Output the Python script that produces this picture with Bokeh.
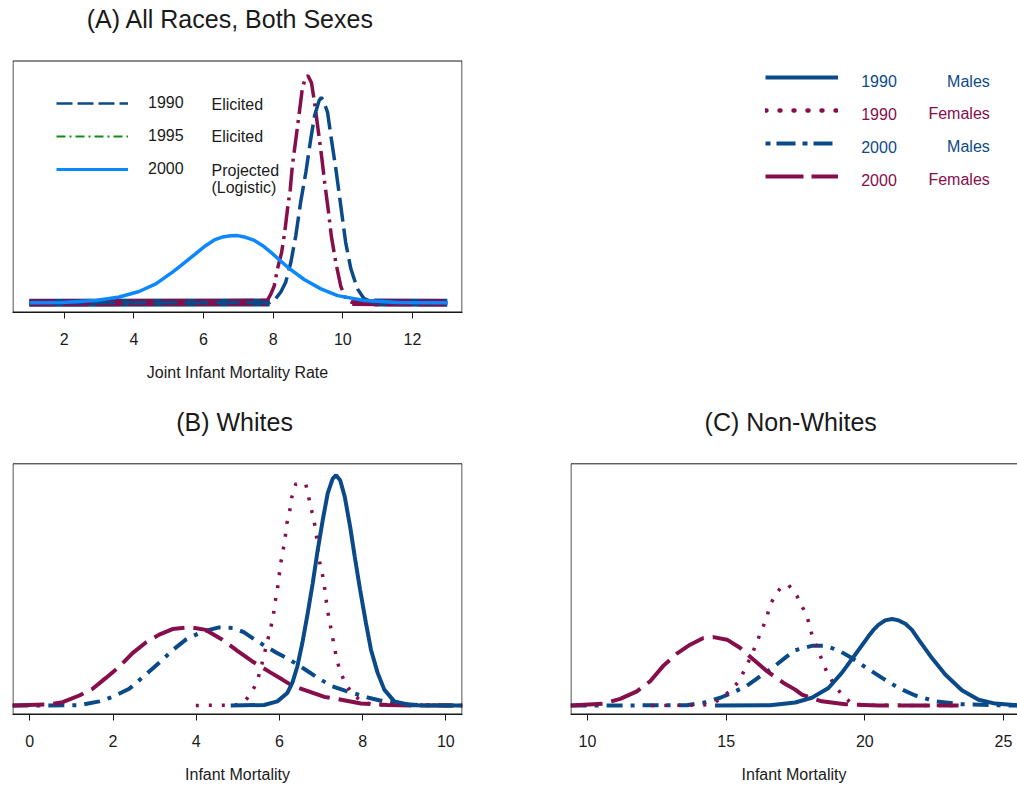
import math
from bokeh.plotting import figure
from bokeh.layouts import column, row
from bokeh.models import Range1d, FixedTicker, Legend, LegendItem, Label, BoxAnnotation
from bokeh.embed import file_html
from bokeh.resources import INLINE

FONT = "Liberation Sans"
NAVY = "#0b4a89"
MAROON = "#860e4b"
SKY = "#0b87ff"
GREEN = "#148c14"
INK = "#1a1a1a"
NAN = float("nan")

# ---------------- Panel A: All races, both sexes (joint IMR densities) ----------------
a_title = "(A) All Races, Both Sexes"
a_ticks = [2, 4, 6, 8, 10, 12]
a_x_1990 = [1.0, 7.9, 8.03, 8.22, 8.36, 8.51, 8.65, 8.79, 8.94, 9.08, 9.19, 9.32, 9.38, 9.44,
            9.56, 9.67, 9.80, 9.94, 10.08, 10.23, 10.42, 10.61, 10.9, 13.0]
a_y_1990 = [0.0, 0.001, 0.010, 0.045, 0.086, 0.170, 0.280, 0.420, 0.545, 0.683, 0.780, 0.843, 0.855, 0.843,
            0.795, 0.683, 0.558, 0.405, 0.253, 0.142, 0.058, 0.017, 0.001, 0.0]
a_x_1995 = [1.0, 7.8, 7.93, 8.03, 8.12, 8.24, 8.33, 8.41, 8.49, 8.55, 8.65, 8.75, 8.84, 8.94, 9.0,
            9.1, 9.19, 9.29, 9.39, 9.48, 9.58, 9.67, 9.80, 9.94, 10.08, 10.27, 13.0]
a_y_1995 = [0.0, 0.002, 0.035, 0.070, 0.139, 0.208, 0.292, 0.389, 0.472, 0.570, 0.680, 0.792, 0.896, 0.942, 0.946,
            0.917, 0.833, 0.722, 0.611, 0.500, 0.389, 0.278, 0.167, 0.070, 0.017, 0.001, 0.0]
a_x_2000 = [1.0, 1.95, 2.91, 3.58, 4.15, 4.63, 5.11, 5.35, 5.59, 5.83, 6.07, 6.31, 6.54, 6.78, 6.98,
            7.21, 7.46, 7.69, 7.93, 8.41, 8.89, 9.37, 9.85, 10.61, 11.57, 13.0]
a_y_2000 = [0.0, 0.001, 0.010, 0.024, 0.047, 0.079, 0.128, 0.155, 0.183, 0.211, 0.239, 0.262, 0.274, 0.279, 0.280,
            0.273, 0.260, 0.239, 0.211, 0.149, 0.097, 0.058, 0.030, 0.010, 0.001, 0.0]
a_legend_years = ["1990", "1995", "2000"]
a_legend_desc = ["Elicited", "Elicited", "Projected", "(Logistic)"]

# ---------------- Panel B: Whites ----------------
b_title = "(B) Whites"
b_ticks = [0, 2, 4, 6, 8, 10]
b_x_m90 = [4.83, 5.63, 5.95, 6.19, 6.31, 6.43, 6.55, 6.68, 6.80, 6.92, 7.04, 7.16, 7.28, 7.36, 7.46,
           7.57, 7.70, 7.81, 7.94, 8.08, 8.20, 8.36, 8.52, 8.76, 9.16, 10.4]
b_y_m90 = [0.0, 0.002, 0.015, 0.045, 0.081, 0.140, 0.224, 0.331, 0.438, 0.557, 0.664, 0.760, 0.813, 0.825, 0.807,
           0.748, 0.640, 0.533, 0.414, 0.295, 0.200, 0.117, 0.057, 0.015, 0.001, 0.0]
b_x_f90 = [3.99, 4.95, 5.15, 5.31, 5.46, 5.58, 5.70, 5.78, 5.85, 5.89, 5.95, 5.99, 6.03, 6.09, 6.14, 6.18,
           6.25, 6.30, 6.39, 6.51, 6.63, 6.70, 6.77, 6.84, 6.89, 6.92, 6.97, 7.04, 7.09, 7.13, 7.18,
           7.24, 7.30, 7.36, 7.44, 7.56, 7.76, 8.04, 8.4, 10.4]
b_y_f90 = [0.0, 0.002, 0.012, 0.042, 0.083, 0.150, 0.224, 0.271, 0.319, 0.367, 0.414, 0.462, 0.510, 0.557, 0.605, 0.653,
           0.700, 0.748, 0.793, 0.798, 0.795, 0.748, 0.702, 0.655, 0.607, 0.560, 0.512, 0.464, 0.417, 0.369, 0.321,
           0.274, 0.226, 0.179, 0.131, 0.087, 0.039, 0.010, 0.002, 0.0]
b_x_m00 = [-0.42, 1.19, 1.67, 1.99, 2.39, 2.79, 3.11, 3.43, 3.75, 4.15, 4.55, 4.91, 5.15, 5.47, 5.92,
           6.25, 6.60, 6.92, 7.27, 7.63, 8.14, 8.5, 9.0, 9.5, 10.4]
b_y_m00 = [0.0, 0.001, 0.015, 0.031, 0.060, 0.111, 0.153, 0.198, 0.236, 0.265, 0.280, 0.278, 0.262, 0.230, 0.190,
           0.164, 0.131, 0.099, 0.069, 0.051, 0.028, 0.015, 0.005, 0.001, 0.0]
b_x_f00 = [-0.42, 0.47, 0.79, 1.19, 1.51, 1.83, 2.15, 2.47, 2.79, 3.11, 3.43, 3.83, 4.23, 4.63, 4.99,
           5.35, 5.79, 6.07, 6.31, 6.70, 7.08, 7.36, 7.96, 8.6, 9.2, 10.4]
b_y_f00 = [0.0, 0.004, 0.012, 0.036, 0.060, 0.099, 0.139, 0.188, 0.226, 0.254, 0.274, 0.281, 0.271, 0.236, 0.196,
           0.158, 0.118, 0.093, 0.071, 0.051, 0.031, 0.024, 0.007, 0.002, 0.0, 0.0]

# ---------------- Panel C: Non-Whites ----------------
c_title = "(C) Non-Whites"
c_ticks = [10, 15, 20, 25]
c_x_m90 = [14.6, 16.59, 17.49, 18.09, 18.69, 19.17, 19.65, 20.13, 20.31, 20.49, 20.73, 20.98, 21.22, 21.46,
           21.70, 21.94, 22.42, 22.90, 23.50, 24.10, 24.70, 25.5]
c_y_m90 = [0.0, 0.001, 0.011, 0.028, 0.063, 0.117, 0.182, 0.248, 0.271, 0.289, 0.305, 0.310, 0.305, 0.293,
           0.271, 0.236, 0.170, 0.111, 0.055, 0.021, 0.007, 0.001]
c_x_f90 = [12.3, 14.2, 14.6, 14.85, 15.2, 15.5, 15.7, 15.93, 16.11, 16.29, 16.47, 16.6, 16.83, 17.05, 17.25,
           17.55, 17.79, 17.97, 18.09, 18.27, 18.45, 18.63, 18.87, 19.17, 19.53, 20.0, 23.3]
c_y_f90 = [0.0, 0.002, 0.011, 0.029, 0.057, 0.093, 0.136, 0.182, 0.229, 0.271, 0.319, 0.364, 0.406, 0.429, 0.432,
           0.393, 0.345, 0.301, 0.254, 0.210, 0.164, 0.120, 0.079, 0.039, 0.007, 0.001, 0.0]
c_x_m00 = [9.39, 13.58, 14.18, 14.79, 15.27, 15.75, 16.23, 16.71, 17.19, 17.49, 18.09, 18.57, 19.05,
           19.53, 20.01, 20.62, 21.22, 21.82, 22.54, 23.5, 24.70, 25.5]
c_y_m00 = [0.0, 0.001, 0.010, 0.028, 0.048, 0.071, 0.105, 0.138, 0.176, 0.198, 0.214, 0.214, 0.198,
           0.170, 0.138, 0.099, 0.063, 0.036, 0.015, 0.005, 0.001, 0.0]
c_x_f00 = [9.39, 10.58, 11.18, 11.78, 12.26, 12.74, 13.22, 13.70, 14.18, 14.54, 15.03, 15.51, 15.99,
           16.47, 17.07, 17.49, 17.73, 18.45, 19.29, 20.49, 23.38]
c_y_f00 = [0.0, 0.007, 0.024, 0.051, 0.087, 0.143, 0.186, 0.218, 0.242, 0.245, 0.236, 0.206, 0.164,
           0.123, 0.081, 0.057, 0.039, 0.015, 0.005, 0.0, 0.0]

# shared legend (top right)
leg_years = ["1990", "1990", "2000", "2000"]
leg_groups = ["Males", "Females", "Males", "Females"]

STY_M90 = dict(color=NAVY, line_width=4)
STY_F90 = dict(color=MAROON, line_width=3.5, line_dash="3 10")
STY_M00 = dict(color=NAVY, line_width=4, line_dash="16 8 4 8")
STY_F00 = dict(color=MAROON, line_width=4, line_dash="32 9")


def base_fig(width, height, xr, yr, borders):
    l, r, t, b = borders
    p = figure(width=width, height=height, x_range=Range1d(*xr), y_range=Range1d(*yr),
               output_backend="svg", toolbar_location=None,
               y_axis_location=None, min_border_left=l, min_border_right=r,
               min_border_top=t, min_border_bottom=b)
    p.grid.visible = False
    p.outline_line_color = None
    p.background_fill_color = "white"
    p.border_fill_color = "white"
    return p


def add_box(p, left, right, bottom, top):
    # visible plot box (the frame itself also holds the title area above it)
    p.add_layout(BoxAnnotation(left=left, right=right, bottom=bottom, top=top,
                               fill_alpha=0, line_color=INK, line_width=1, line_alpha=1))


def add_title(p, text, x, y):
    p.add_layout(Label(x=x, y=y, text=text, text_font=FONT, text_font_size="25px",
                       text_color=INK, text_align="center", text_baseline="middle"))


def style_xaxis(p, ticks, label):
    ax = p.xaxis[0]
    ax.ticker = FixedTicker(ticks=ticks)
    ax.axis_label = label
    ax.axis_label_text_font = FONT
    ax.axis_label_text_font_size = "16px"
    ax.axis_label_text_font_style = "normal"
    ax.axis_label_text_color = INK
    ax.axis_label_standoff = 16
    ax.major_label_text_font = FONT
    ax.major_label_text_font_size = "16px"
    ax.major_label_text_color = INK
    ax.major_label_standoff = 14
    ax.major_tick_in = 0
    ax.major_tick_out = 6
    ax.major_tick_line_color = INK
    ax.minor_tick_line_color = None
    ax.axis_line_color = INK


def low_only(ys):
    return [v if v < 0.003 else NAN for v in ys]


# ---------------- build panel A ----------------
pA = base_fig(757, 400, (0.516, 13.436), (-0.0404, 1.2596), (12, 295, 0, 88))
style_xaxis(pA, a_ticks, "Joint Infant Mortality Rate")
add_box(pA, 0.5304, 13.4216, -0.0383, 1.0075)
add_title(pA, a_title, 6.775, 1.1846)

pA.line(a_x_1990, low_only(a_y_1990), color=NAVY, line_width=8)
pA.line(a_x_1995, low_only(a_y_1995), color=MAROON, line_width=7, line_dash="26 7")
pA.line(a_x_1995, a_y_1995, color=MAROON, line_width=3.5, line_dash="24 6 3 6")
pA.line(a_x_1990, a_y_1990, color=NAVY, line_width=3.5, line_dash="24 7")
pA.line(a_x_2000, a_y_2000, color=SKY, line_width=3.5)

rk1 = pA.line(x=[NAN], y=[NAN], color=NAVY, line_width=2.5, line_dash="16 5")
rk2 = pA.line(x=[NAN], y=[NAN], color=GREEN, line_width=2, line_dash="9 4 2 4")
rk3 = pA.line(x=[NAN], y=[NAN], color=SKY, line_width=3)
legA = Legend(items=[LegendItem(label=a_legend_years[0], renderers=[rk1]),
                     LegendItem(label=a_legend_years[1], renderers=[rk2]),
                     LegendItem(label=a_legend_years[2], renderers=[rk3])],
              location=(44, 133), orientation="vertical", glyph_width=72, glyph_height=20,
              label_height=20, spacing=13, padding=0, margin=0, label_standoff=20,
              border_line_color=None, background_fill_alpha=0,
              label_text_font=FONT, label_text_font_size="16px", label_text_color=INK)
pA.add_layout(legA)

desc_y = [0.828, 0.691, 0.553, 0.4825]
for txt, yy in zip(a_legend_desc, desc_y):
    pA.add_layout(Label(x=6.229, y=yy, text=txt, text_font=FONT, text_font_size="16px",
                        text_color=INK, text_baseline="middle", text_align="left"))

# ---------------- legend panel (top right) ----------------
pL = figure(width=260, height=400, x_range=Range1d(757, 1017), y_range=Range1d(312, 0),
            output_backend="svg", toolbar_location=None, x_axis_location=None, y_axis_location=None,
            min_border_left=0, min_border_right=0, min_border_top=0, min_border_bottom=88)
pL.grid.visible = False
pL.outline_line_color = None
r1 = pL.line(x=[NAN], y=[NAN], **STY_M90)
r2 = pL.line(x=[NAN], y=[NAN], color=MAROON, line_width=4.5, line_dash="1 13", line_cap="round")
r3 = pL.line(x=[NAN], y=[NAN], color=NAVY, line_width=4, line_dash="5 6 19 7")
r4 = pL.line(x=[NAN], y=[NAN], color=MAROON, line_width=4, line_dash="38 8")
legL = Legend(items=[LegendItem(label="\u00a0", renderers=[r]) for r in (r1, r2, r3, r4)],
              location=(8, 126), orientation="vertical", glyph_width=73, glyph_height=20,
              label_height=20, label_width=1, spacing=13, padding=0, margin=0, label_standoff=0,
              border_line_color=None, background_fill_alpha=0,
              label_text_font=FONT, label_text_font_size="16px", label_text_color="white")
pL.add_layout(legL)
row_y = [80.5, 113.0, 146.0, 179.0]
for yr_txt, grp, yy in zip(leg_years, leg_groups, row_y):
    col = NAVY if grp == "Males" else MAROON
    pL.add_layout(Label(x=860.7, y=yy, text=yr_txt, text_font=FONT, text_font_size="16px",
                        text_color=col, text_baseline="middle", text_align="left"))
    pL.add_layout(Label(x=989.3, y=yy, text=grp, text_font=FONT, text_font_size="16px",
                        text_color=col, text_baseline="middle", text_align="right"))

# ---------------- panel B ----------------
pB = base_fig(520, 385, (-0.416, 10.40), (-0.0321, 1.0929), (12, 58, 0, 70))
style_xaxis(pB, b_ticks, "Infant Mortality")
add_box(pB, -0.404, 10.388, -0.0303, 0.8661)
add_title(pB, b_title, 4.921, 1.0143)
pB.line(b_x_m00, b_y_m00, **STY_M00)
pB.line(b_x_f00, b_y_f00, **STY_F00)
pB.line(b_x_f90, b_y_f90, **STY_F90)
pB.line(b_x_m90, b_y_m90, **STY_M90)

# ---------------- panel C ----------------
pC = base_fig(497, 385, (9.387, 25.505), (-0.0321, 1.0929), (50, 0, 0, 70))
style_xaxis(pC, c_ticks, "Infant Mortality")
add_box(pC, 9.405, 25.8, -0.0303, 0.8661)
add_title(pC, c_title, 17.328, 1.0143)
pC.line(c_x_m00, c_y_m00, **STY_M00)
pC.line(c_x_f00, c_y_f00, **STY_F00)
pC.line(c_x_f90, c_y_f90, **STY_F90)
pC.line(c_x_m90, c_y_m90, **STY_M90)

layout = column(row(pA, pL), row(pB, pC))
open("out.html", "w").write(file_html(layout, INLINE))
